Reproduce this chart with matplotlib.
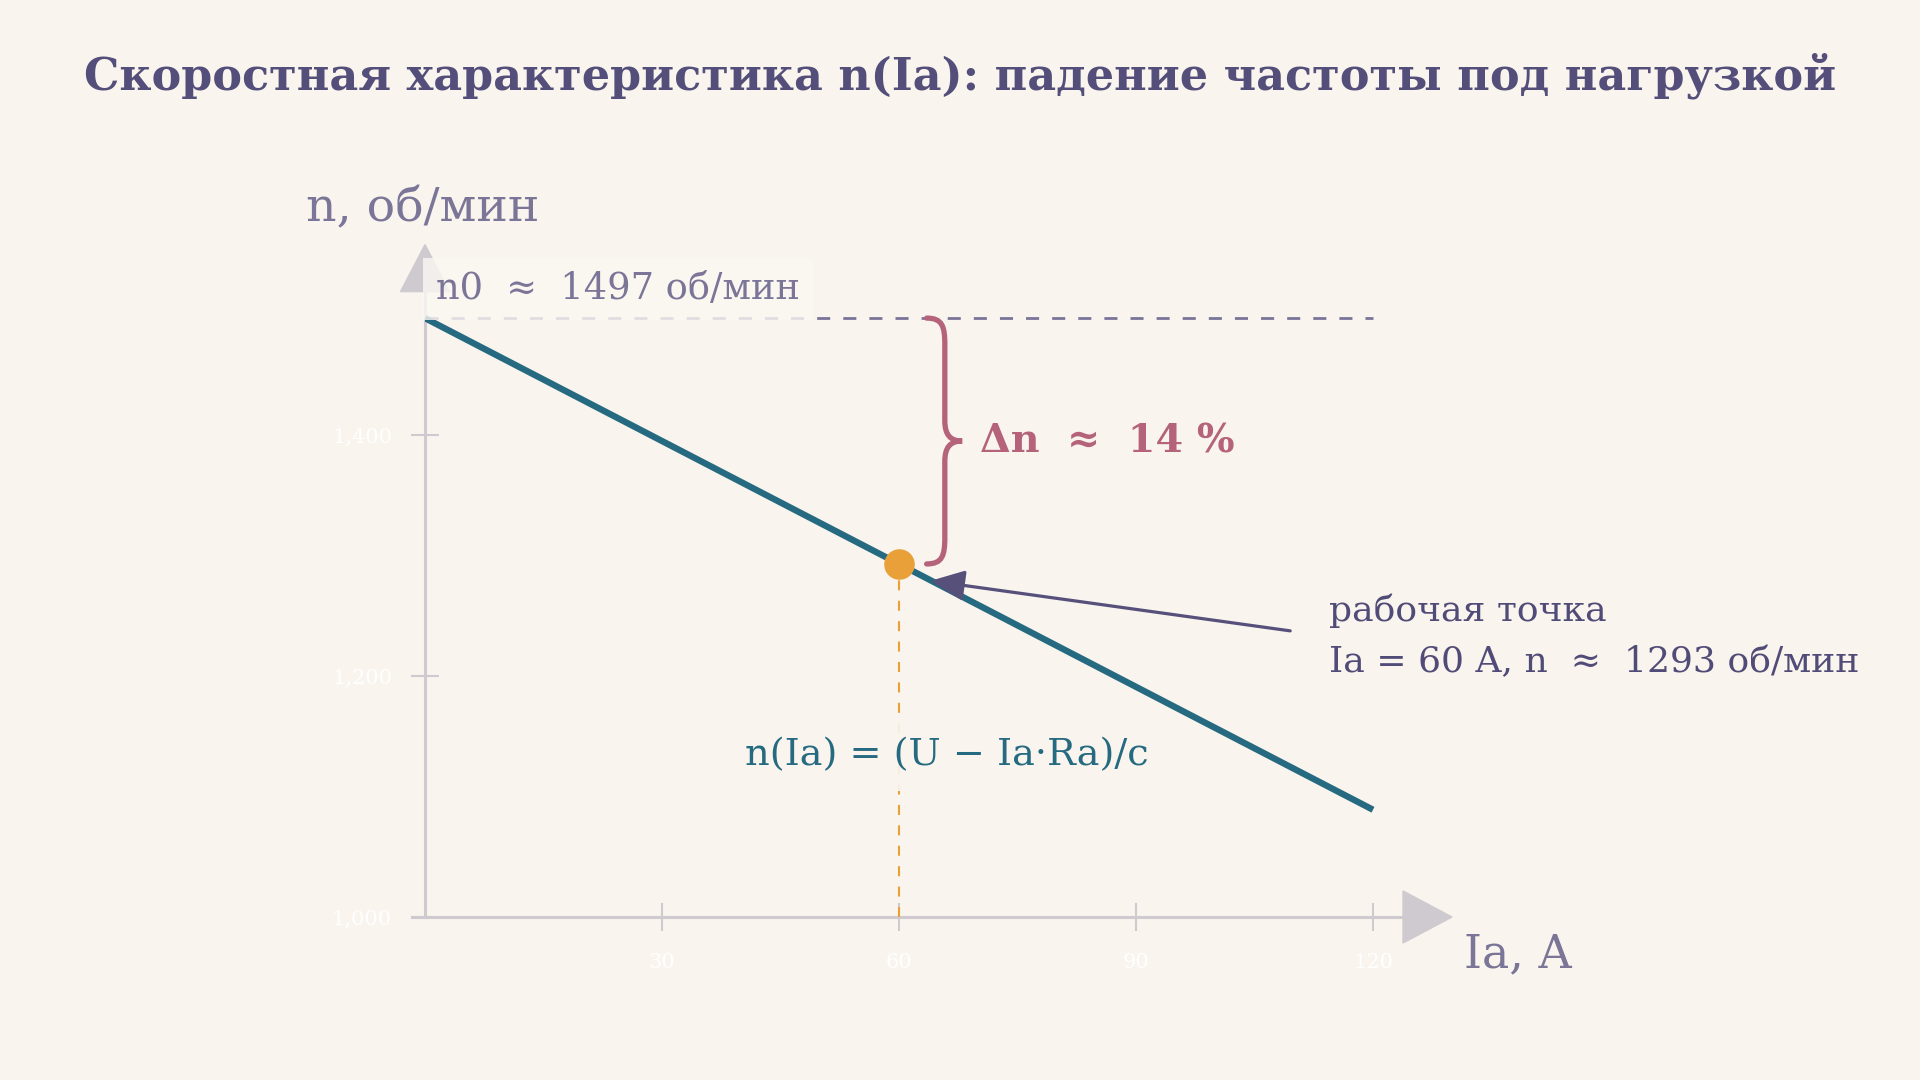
import matplotlib
matplotlib.use("Agg")
import matplotlib.pyplot as plt
from matplotlib.path import Path
import matplotlib.patches as mpatches

# data
current = [0, 60, 120]          # Ia, A
speed = [1497, 1293, 1089]      # n, rpm
n0 = 1497
work_I = 60
work_n = 1293
drop_pct = 14
x_ticks = [30, 60, 90, 120]
y_ticks = [1000, 1200, 1400]

bg = "#f9f4ed"
title_col = "#544e7a"
label_col = "#7b7598"
axis_col = "#cecacf"
line_col = "#256a80"
dot_col = "#e9a038"
brace_col = "#b4637a"
note_col = "#514b78"

plt.rcParams["font.family"] = ["DejaVu Serif"]

fig = plt.figure(figsize=(19.2, 10.8), dpi=100, facecolor=bg)
ax = fig.add_axes([425 / 1920, 163 / 1080, 1027 / 1920, 672.4 / 1080])
ax.set_facecolor("none")
ax.set_xlim(0, 130)
ax.set_ylim(1000, 1558)

for s in ["top", "right"]:
    ax.spines[s].set_visible(False)
for s in ["left", "bottom"]:
    ax.spines[s].set_color(axis_col)
    ax.spines[s].set_linewidth(2.2)
ax.spines["left"].set_bounds(1000, 1522)
ax.spines["bottom"].set_bounds(-1.6, 124)

ax.set_xticks(x_ticks)
ax.set_yticks(y_ticks)
ax.set_xticklabels([str(v) for v in x_ticks])
ax.set_yticklabels(["{:,}".format(v) for v in y_ticks])
ax.tick_params(direction="inout", length=19.5, width=1.5, color=axis_col,
               labelcolor="white", labelsize=15)
ax.tick_params(axis="x", pad=16)
ax.tick_params(axis="y", pad=14)

# arrow heads on axes
ax.add_patch(mpatches.Polygon([[123.8, 1000 - 21.6], [130, 1000], [123.8, 1000 + 21.6]],
                              closed=True, color=axis_col, clip_on=False, zorder=2))
ax.add_patch(mpatches.Polygon([[-3.1, 1519], [0, 1558], [3.1, 1519]],
                              closed=True, color=axis_col, clip_on=False, zorder=2))

# no-load speed dashed line
ax.plot([0, 120], [n0, n0], color="#7a7499", lw=2, linestyle=(0, (4.7, 4.7)),
        zorder=3, clip_on=False)

# speed characteristic
ax.plot(current, speed, color=line_col, lw=4.6, solid_capstyle="butt", zorder=4)

# operating point + drop line
ax.plot([work_I, work_I], [1000, work_n], color=dot_col, lw=1.5,
        linestyle=(0, (4.8, 5)), zorder=3)
ax.plot(work_I, work_n, "o", color=dot_col, markersize=21, zorder=6)

# brace for the drop
xe, xb, xt = 63.5, 65.8, 68.0
ym = (n0 + work_n) / 2
verts = [(xe, n0), (65.5, n0), (xb, n0 - 7), (xb, n0 - 22),
         (xb, ym + 17),
         (xb, ym + 5), (66.5, ym), (xt, ym),
         (66.5, ym), (xb, ym - 5), (xb, ym - 17),
         (xb, work_n + 22),
         (xb, work_n + 7), (65.5, work_n), (xe, work_n)]
codes = [Path.MOVETO, Path.CURVE4, Path.CURVE4, Path.CURVE4,
         Path.LINETO,
         Path.CURVE4, Path.CURVE4, Path.CURVE4,
         Path.CURVE4, Path.CURVE4, Path.CURVE4,
         Path.LINETO,
         Path.CURVE4, Path.CURVE4, Path.CURVE4]
ax.add_patch(mpatches.PathPatch(Path(verts, codes), facecolor="none",
                                edgecolor=brace_col, lw=3.8, capstyle="round",
                                clip_on=False, zorder=5))
ax.text(70.3, ym, "Δn  ≈  {} %".format(drop_pct), color=brace_col, fontsize=28.5,
        fontweight="bold", ha="left", va="center", zorder=7)

# labels
box = dict(boxstyle="square,pad=0.35", facecolor="#fbf8f3", edgecolor="none", alpha=0.8)
ax.text(1.4, n0 + 24, "n0  ≈  {} об/мин".format(n0), color=label_col, fontsize=26.5,
        ha="left", va="center", bbox=box, zorder=5)
ax.text(-15.1, 1588, "n, об/мин", color=label_col, fontsize=34, ha="left", va="center",
        clip_on=False)
ax.text(131.5, 969, "Ia, A", color=label_col, fontsize=33, ha="left", va="center",
        clip_on=False)
ax.text(66.1, 1134, "n(Ia) = (U − Ia·Ra)/c", color=line_col, fontsize=27.5,
        ha="center", va="center", zorder=7,
        bbox=dict(boxstyle="square,pad=0.45", facecolor=bg, edgecolor="none", alpha=0.92))

ax.annotate("рабочая точка\nIa = {} A, n  ≈  {} об/мин".format(work_I, work_n),
            xy=(64.0, 1279), xytext=(114.4, 1233), color=note_col, fontsize=26,
            ha="left", va="center", linespacing=1.65, annotation_clip=False,
            arrowprops=dict(arrowstyle="-|>,head_length=0.8,head_width=0.36",
                            color="#56507a", lw=2.3, shrinkA=26, shrinkB=0,
                            relpos=(0, 0.5)),
            zorder=7)

fig.text(0.5, 1 - 76 / 1080,
         "Скоростная характеристика n(Ia): падение частоты под нагрузкой",
         ha="center", va="center", fontsize=32, fontweight="bold", color=title_col)

fig.savefig("out.png", dpi=100, facecolor=bg)
